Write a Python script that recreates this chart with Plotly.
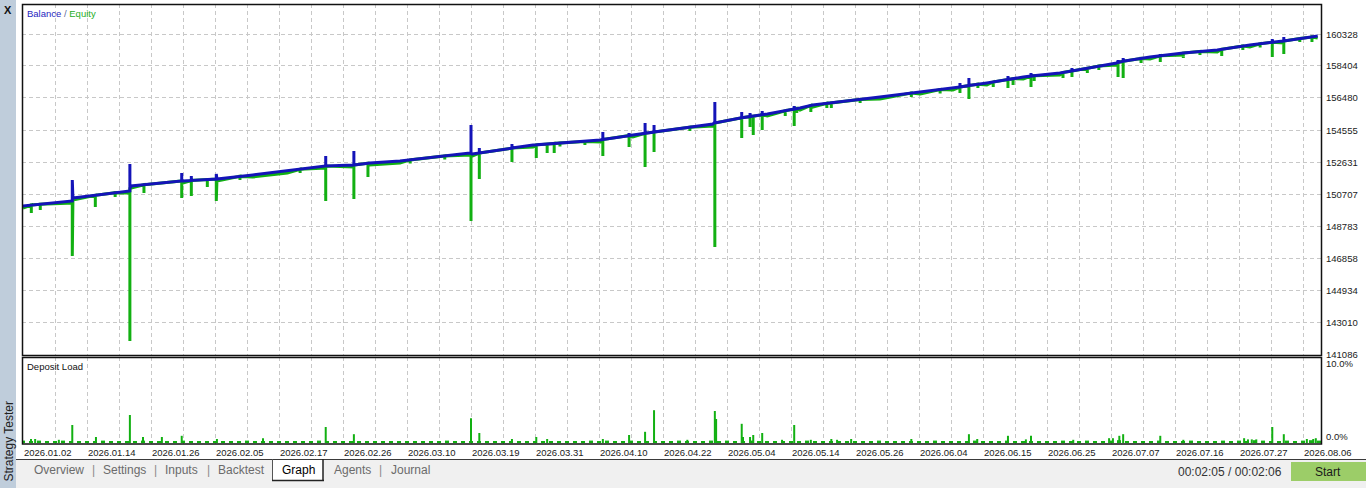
import plotly.graph_objects as go

# ---------------- data ----------------
x_tick_labels = ["2026.01.02", "2026.01.14", "2026.01.26", "2026.02.05", "2026.02.17", "2026.02.26",
                 "2026.03.10", "2026.03.19", "2026.03.31", "2026.04.10", "2026.04.22", "2026.05.04",
                 "2026.05.14", "2026.05.26", "2026.06.04", "2026.06.15", "2026.06.25", "2026.07.07",
                 "2026.07.16", "2026.07.27", "2026.08.06"]
y_tick_values = [141086, 143010, 144934, 146858, 148783, 150707, 152631, 154555, 156480, 158404, 160328]
load_tick_values = [10, 0]
load_tick_labels = ["10.0%", "0.0%"]

# balance / equity curve (x in label-step units)
curve_x = [0.00, 0.77, 0.78, 1.67, 1.69, 2.50, 3.03, 3.59, 4.13, 4.72, 5.16, 5.42, 5.89, 6.98, 7.02,
           7.97, 9.02, 9.53, 10.78, 10.81, 11.63, 12.14, 12.34, 13.39, 14.02, 14.53, 15.06, 15.63,
           16.20, 17.09, 17.11, 17.61, 18.13, 18.66, 19.17, 19.69, 20.23]
balance = [149985, 150286, 150466, 150887, 151188, 151488, 151609, 151849, 152090, 152390, 152451,
           152571, 152691, 153172, 153112, 153653, 153954, 154254, 154916, 155036, 155517, 155878,
           156058, 156539, 156840, 157081, 157381, 157742, 157983, 158584, 158644, 158945, 159185,
           159366, 159666, 159907, 160207]
equity = [149865, 150166, 150346, 150767, 151068, 151368, 151489, 151729, 151970, 152270, 152331,
          152451, 152571, 153052, 152992, 153533, 153834, 154134, 154796, 154916, 155397, 155758,
          155938, 156419, 156720, 156961, 157261, 157622, 157863, 158464, 158524, 158825, 159065,
          159246, 159546, 159787, 160087]

# excursions: position, balance level, balance peak (blue), equity low (green)
spike_x = [0.13, 0.77, 1.13, 1.67, 1.89, 2.48, 2.63, 2.88, 3.02, 4.73, 5.17, 5.39, 7.00, 7.13, 7.64,
           8.02, 8.19, 8.30, 9.06, 9.47, 9.72, 9.86, 10.81, 11.23, 11.36, 11.41, 11.55, 11.91, 12.05,
           12.09, 12.31, 12.56, 12.63, 13.88, 14.64, 14.78, 14.92, 15.16, 15.39, 15.47, 15.75, 15.80,
           16.25, 16.39, 16.63, 17.11, 17.19, 17.47, 17.77, 18.13, 18.73, 19.06, 19.52, 19.70, 20.14,
           0.27, 1.44, 3.39, 4.33, 6.05, 6.59, 8.39, 8.78, 10.42, 13.08, 14.33, 16.81, 18.39, 19.33, 19.95]
spike_base = [150045, 150376, 150629, 151038, 151263, 151488, 151519, 151573, 151609, 152390, 152451,
              152559, 153142, 153172, 153467, 153665, 153713, 153749, 153984, 154218, 154354, 154429,
              154976, 155289, 155361, 155385, 155469, 155716, 155812, 155848, 156034, 156161, 156185,
              156774, 157141, 157225, 157303, 157441, 157592, 157640, 157796, 157814, 158013, 158109,
              158265, 158614, 158692, 158860, 159017, 159185, 159414, 159606, 159829, 159907, 160153,
              150087, 150779, 151765, 152192, 152757, 152998, 153773, 153858, 154723, 156395, 156984,
              158403, 159275, 159738, 160051]
spike_high = [None, 151549, None, 152511, None, 151970, 151789, None, 151909, 152992, 153292,
              None, 154856, 153473, 153713, 153713, None, None, 154435, 154375, 154976, 154856,
              156239, 155637, 155577, None, 155698, None, 155998, None, None, None, None,
              None, 157381, 157682, None, None, 157802, None, 157983, None, None, 158283,
              None, 158764, 158884, None, 159125, None, None, None, 160027, 160147, None,
              None, None, None, None, None, None, None, None, None, None, None,
              None, None, None, None]
spike_low = [149564, 146979, 149925, 141868, 150767, 150466, 150587, 151128, 150286, 150286, 150406,
             151729, 149083, 151609, 152631, 152871, 153172, 153172, 152992, 153533, 152330, 153232,
             147520, 154074, 154736, 154254, 154555, 155397, 154796, 155577, 155637, 155878, 155878,
             156539, 156780, 156419, 157081, 157141, 157081, 157261, 157141, 157501, 157682, 157742,
             157983, 157742, 157682, 158584, 158644, 158884, 159005, 159366, 158945, 159125, 159847,
             149745, 150526, 151549, 151970, 152541, 152781, 153563, 153653, 154495, 156179, 156750,
             158163, 159065, 159516, 159847]

# deposit load (%)
load_x = [0.125, 0.19, 0.56, 0.77, 1.14, 1.67, 1.875, 2.17, 2.48, 3.03, 3.75, 4.73, 5.17, 7.00, 7.13,
          7.64, 8.02, 8.19, 9.06, 9.47, 9.72, 9.86, 10.38, 10.81, 10.83, 11.23, 11.25, 11.36, 11.41,
          11.55, 11.86, 12.05, 12.31, 12.63, 12.72, 12.94, 13.88, 14.78, 14.91, 15.39, 15.67, 15.75,
          16.41, 16.97, 17.03, 17.13, 17.19, 17.77, 18.13, 19.08, 19.14, 19.20, 19.27, 19.52, 19.70,
          20.06, 20.16, 20.20]
load_vals = [0.5, 0.5, 0.4, 2.25, 0.75, 3.5, 0.75, 0.75, 0.9, 0.5, 0.6, 2.0, 1.1, 3.1, 1.25,
             0.5, 0.75, 0.5, 0.5, 1.0, 1.4, 4.1, 0.4, 4.0, 3.0, 2.4, 0.75, 0.75, 1.0,
             1.25, 0.4, 2.25, 0.4, 0.5, 0.4, 0.5, 0.5, 1.1, 0.5, 0.9, 0.45, 0.9,
             0.4, 0.6, 0.6, 0.9, 1.1, 0.9, 0.4, 0.6, 0.45, 0.45, 0.45, 2.0, 1.1,
             0.5, 0.5, 0.6]
# small baseline load, one value per 1/8 label step
load_bg = [0.3, 0.2, 0.3, 0.25, 0.2, 0.3, 0.2, 0.15,
           0.25, 0.2, 0.3, 0.2, 0.15, 0.25, 0.2, 0.3,
           0.2, 0.25, 0.15, 0.2, 0.3, 0.2, 0.25, 0.2,
           0.15, 0.2, 0.25, 0.2, 0.3, 0.25, 0.2, 0.15,
           0.2, 0.15, 0.2, 0.25, 0.2, 0.3, 0.2, 0.25,
           0.2, 0.15, 0.25, 0.2, 0.15, 0.2, 0.2, 0.15,
           0.2, 0.25, 0.2, 0.15, 0.2, 0.3, 0.2, 0.25,
           0.25, 0.2, 0.15, 0.2, 0.25, 0.2, 0.15, 0.2,
           0.2, 0.25, 0.2, 0.15, 0.2, 0.25, 0.2, 0.3,
           0.25, 0.3, 0.2, 0.25, 0.3, 0.2, 0.25, 0.2,
           0.2, 0.25, 0.3, 0.2, 0.25, 0.2, 0.3, 0.25,
           0.3, 0.25, 0.2, 0.3, 0.25, 0.2, 0.25, 0.2,
           0.25, 0.2, 0.3, 0.2, 0.25, 0.2, 0.15, 0.2,
           0.2, 0.25, 0.2, 0.3, 0.2, 0.25, 0.2, 0.2,
           0.25, 0.2, 0.3, 0.25, 0.2, 0.25, 0.2, 0.3,
           0.2, 0.25, 0.2, 0.3, 0.2, 0.25, 0.2, 0.2,
           0.25, 0.2, 0.3, 0.2, 0.25, 0.3, 0.2, 0.25,
           0.3, 0.35, 0.25, 0.2, 0.25, 0.2, 0.3, 0.2,
           0.25, 0.2, 0.3, 0.2, 0.25, 0.2, 0.3, 0.25,
           0.3, 0.25, 0.35, 0.3, 0.25, 0.2, 0.3, 0.25,
           0.3, 0.35, 0.3]

# ---------------- styling / layout helpers ----------------
W, H = 1366, 488
def PX(x): return x / W
def PY(y): return 1 - y / H

BLUE = "#1414b8"
GREEN = "#12b012"
FONT = "Liberation Sans"

def merge(curve_vals, use_high):
    events = [(x, [v]) for x, v in zip(curve_x, curve_vals)]
    for x, b, h, l in zip(spike_x, spike_base, spike_high, spike_low):
        if use_high:
            if h is not None:
                events.append((x, [b, h, b]))
        else:
            events.append((x, [b, l, b]))
    events.sort(key=lambda e: e[0])
    xs, ys = [], []
    for x, vs in events:
        xs += [x] * len(vs)
        ys += vs
    return xs, ys

eq_x, eq_y = merge(equity, False)
bal_x, bal_y = merge(balance, True)

fig = go.Figure()
fig.add_trace(go.Scatter(x=eq_x, y=eq_y, mode="lines", line=dict(color=GREEN, width=3),
                         xaxis="x", yaxis="y", hoverinfo="skip"))
fig.add_trace(go.Scatter(x=bal_x, y=bal_y, mode="lines", line=dict(color=BLUE, width=3),
                         xaxis="x", yaxis="y", hoverinfo="skip"))
fig.add_trace(go.Bar(x=[i / 8 for i in range(len(load_bg))], y=load_bg, width=1 / 16,
                     marker=dict(color=GREEN, line=dict(width=0)), xaxis="x2", yaxis="y2"))
fig.add_trace(go.Bar(x=load_x, y=load_vals, width=2 / 64,
                     marker=dict(color=GREEN, line=dict(width=0)), xaxis="x2", yaxis="y2"))

step = y_tick_values[1] - y_tick_values[0]
yr = [y_tick_values[0] - step / 32, y_tick_values[-1] + step * 30 / 32]
xr = [-1 / 64, 1298 / 64]
grid_x = [k / 2 for k in range(2 * len(x_tick_labels) - 1)]
grid = dict(showgrid=True, gridcolor="#c8c8c8", gridwidth=1, griddash="4px,3px",
            zeroline=False, showline=False, ticks="", showticklabels=False, fixedrange=True)

annotations = []
def txt(text, x, y, size=9.5, color="#1a1a1a", xanchor="left", xref="paper", yref="paper",
        angle=0, family=FONT, yanchor="middle"):
    annotations.append(dict(text=text, x=x, y=y, xref=xref, yref=yref, xanchor=xanchor,
                            yanchor=yanchor, showarrow=False, textangle=angle,
                            font=dict(family=family, size=size, color=color), borderpad=0))

for i, lab in enumerate(x_tick_labels):
    txt(lab, i, PY(452), xref="x")
for v in y_tick_values:
    txt(str(v), PX(1325), v, yref="y")
txt(load_tick_labels[0], PX(1325), load_tick_values[0], yref="y2")
txt(load_tick_labels[1], PX(1325), load_tick_values[1], yref="y2", yanchor="bottom")

txt("<span style='color:#1f1fc0'>Balance</span><span style='color:#5a6a9a'> / </span>"
    "<span style='color:#1fae1f'>Equity</span>", PX(26), PY(13))
txt("Deposit Load", PX(26), PY(366), color="#111111")
txt("<b>X</b>", PX(8), PY(10), size=11, color="#111111", xanchor="center")
txt("Strategy Tester", PX(8.5), PY(442), size=12, color="#222222", xanchor="center", angle=-90)

tabs = [("Overview", 33, "#6b6b6b"), ("|", 91, "#8a8a8a"), ("Settings", 102, "#6b6b6b"),
        ("|", 153, "#8a8a8a"), ("Inputs", 164, "#6b6b6b"), ("|", 206, "#8a8a8a"),
        ("Backtest", 217, "#6b6b6b"), ("Graph", 281, "#000000"), ("Agents", 333, "#6b6b6b"),
        ("|", 378, "#8a8a8a"), ("Journal", 390, "#6b6b6b")]
for t, xl, c in tabs:
    txt(t, PX(xl), PY(470), size=12, color=c)
txt("00:02:05 / 00:02:06", PX(1283), PY(472), size=12, color="#333333", xanchor="right")
txt("Start", PX(1328), PY(472), size=12, color="#1a1a1a", xanchor="center")

def rect(x0, y0, x1, y1, fill=None, line_color=None, lw=0, layer="above"):
    d = dict(type="rect", xref="paper", yref="paper", x0=PX(x0), x1=PX(x1), y0=PY(y1), y1=PY(y0),
             layer=layer, line=dict(width=lw, color=line_color or "rgba(0,0,0,0)"))
    if fill:
        d["fillcolor"] = fill
    return d

def hline(x0, x1, y, color, lw):
    return dict(type="line", xref="paper", yref="paper", x0=PX(x0), x1=PX(x1), y0=PY(y), y1=PY(y),
                line=dict(color=color, width=lw))

def vline(x, y0, y1, color, lw):
    return dict(type="line", xref="paper", yref="paper", x0=PX(x), x1=PX(x), y0=PY(y0), y1=PY(y1),
                line=dict(color=color, width=lw))

shapes = [
    rect(0, 0, 16, 488, fill="#bfcddb", layer="below"),
    rect(16, 459, 1366, 488, fill="#f0f0f0", layer="below"),
    hline(16, 1366, 459.5, "#3a3a3a", 1),
    rect(272, 459, 323, 480, fill="#ffffff", layer="below"),
    vline(272.5, 459, 480, "#555555", 1),
    vline(323, 459, 481, "#222222", 1.5),
    hline(272, 324, 480.5, "#222222", 1.5),
    rect(1291, 462, 1366, 481, fill="#9ccd68", layer="below"),
    rect(22.5, 4.5, 1321.5, 355.5, line_color="#111111", lw=1.5),
    rect(22.5, 357.5, 1321.5, 444, line_color="#111111", lw=1.5),
]

fig.update_layout(
    width=W, height=H, margin=dict(l=0, r=0, t=0, b=0),
    paper_bgcolor="#ffffff", plot_bgcolor="#ffffff",
    showlegend=False, barmode="overlay",
    xaxis=dict(domain=[PX(22), PX(1321)], range=xr, tickmode="array", tickvals=grid_x,
               anchor="y", **grid),
    yaxis=dict(domain=[PY(355), PY(4)], range=yr, tickmode="array", tickvals=y_tick_values,
               anchor="x", **grid),
    xaxis2=dict(domain=[PX(22), PX(1321)], range=xr, tickmode="array", tickvals=grid_x,
                anchor="y2", **grid),
    yaxis2=dict(domain=[PY(444), PY(357)], range=[-0.125, 10.75], showgrid=False, zeroline=False,
                showline=False, ticks="", showticklabels=False, anchor="x2", fixedrange=True),
    annotations=annotations,
    shapes=shapes,
)

fig.write_html("out.html", config={"displayModeBar": False},
               post_script="document.body.style.margin='0';document.body.style.overflow='hidden';")
